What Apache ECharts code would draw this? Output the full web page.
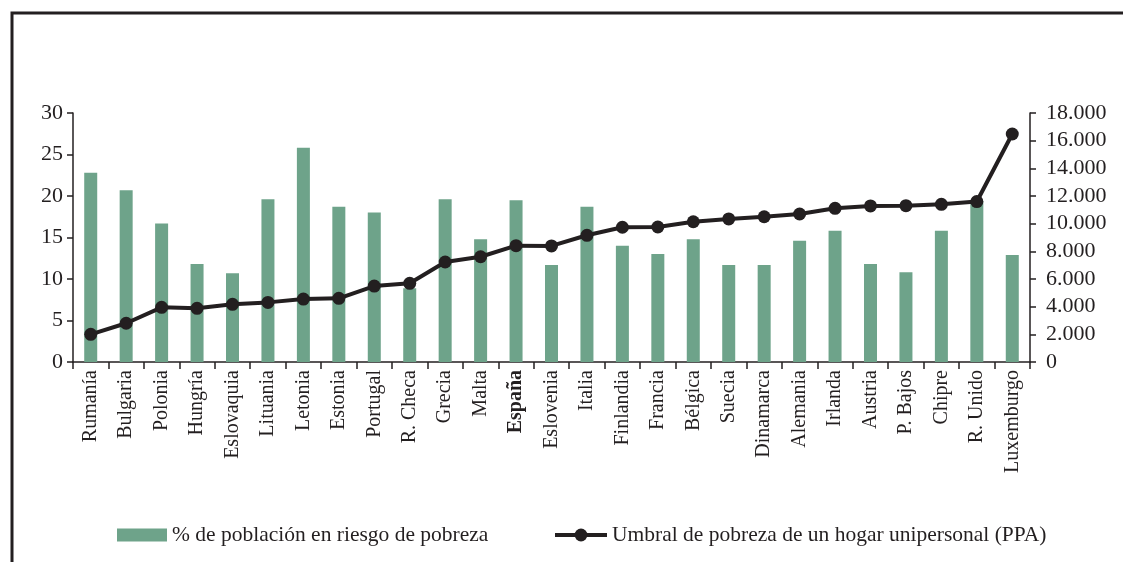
<!DOCTYPE html>
<html>
<head>
<meta charset="utf-8">
<script src="https://cdn.jsdelivr.net/npm/echarts@6/dist/echarts.min.js"></script>
<style>
  html, body { margin: 0; padding: 0; background: #fff; }
  #main { width: 1123px; height: 562px; }
</style>
</head>
<body>
<div id="main"></div>
<script>
// datos
const paises = ['Rumanía', 'Bulgaria', 'Polonia', 'Hungría', 'Eslovaquia', 'Lituania', 'Letonia',
  'Estonia', 'Portugal', 'R. Checa', 'Grecia', 'Malta', 'España', 'Eslovenia', 'Italia',
  'Finlandia', 'Francia', 'Bélgica', 'Suecia', 'Dinamarca', 'Alemania', 'Irlanda', 'Austria',
  'P. Bajos', 'Chipre', 'R. Unido', 'Luxemburgo'];

const riesgoPobreza = [22.8, 20.7, 16.7, 11.8, 10.7, 19.6, 25.8, 18.7, 18.0, 8.9, 19.6, 14.8,
  19.5, 11.7, 18.7, 14.0, 13.0, 14.8, 11.7, 11.7, 14.6, 15.8, 11.8, 10.8, 15.8, 19.4, 12.9];

const umbralPPA = [2000, 2800, 3950, 3880, 4170, 4310, 4550, 4600, 5490, 5690, 7230, 7610,
  8410, 8390, 9160, 9740, 9760, 10140, 10340, 10500, 10700, 11110, 11280, 11300, 11400, 11600, 16480];

const ticksIzq = [0, 5, 10, 15, 20, 25, 30];
const ticksDer = [0, 2000, 4000, 6000, 8000, 10000, 12000, 14000, 16000, 18000];

const nombreBarras = '% de población en riesgo de pobreza';
const nombreLinea = 'Umbral de pobreza de un hogar unipersonal (PPA)';

const negro = '#231f20';
const verde = '#6ea38a';
const fuente = '"Liberation Serif", "Times New Roman", serif';

const chart = echarts.init(document.getElementById('main'), null, { renderer: 'canvas' });

const option = {
  backgroundColor: '#fff',
  animation: false,
  textStyle: { fontFamily: fuente, color: negro },
  graphic: [{
    type: 'polyline',
    shape: { points: [[12, 562], [12, 13], [1123, 13]] },
    style: { stroke: negro, lineWidth: 3, fill: null }
  }],
  legend: [{
    data: [{ name: nombreBarras, icon: 'rect' }],
    left: 112,
    top: 519,
    itemWidth: 50,
    itemHeight: 13,
    textStyle: { fontFamily: fuente, fontSize: 21.5, color: negro }
  }, {
    data: [nombreLinea],
    left: 548,
    top: 519,
    itemWidth: 52,
    itemHeight: 16,
    lineStyle: { width: 4 },
    textStyle: { fontFamily: fuente, fontSize: 21.5, color: negro }
  }],
  grid: { left: 73, right: 93, top: 113, bottom: 200 },
  xAxis: {
    type: 'category',
    data: paises,
    axisLine: { lineStyle: { color: negro, width: 1.5 } },
    axisTick: { show: true, length: 7, lineStyle: { color: negro, width: 1.5 } },
    axisLabel: {
      rotate: 90,
      interval: 0,
      margin: 8,
      fontFamily: fuente,
      fontSize: 20,
      color: negro,
      formatter: function (v) { return v === 'España' ? '{b|' + v + '}' : v; },
      rich: { b: { fontFamily: fuente, fontSize: 20, fontWeight: 'bold', color: negro } }
    }
  },
  yAxis: [{
    type: 'value',
    min: 0, max: 30, interval: 5,
    axisLine: { show: true, lineStyle: { color: negro, width: 1.5 } },
    axisTick: { show: true, length: 6, lineStyle: { color: negro, width: 1.5 } },
    splitLine: { show: false },
    axisLabel: {
      margin: 10, fontFamily: fuente, fontSize: 22, color: negro,
      customValues: ticksIzq
    }
  }, {
    type: 'value',
    min: 0, max: 18000, interval: 2000,
    position: 'right',
    axisLine: { show: true, lineStyle: { color: negro, width: 1.5 } },
    axisTick: { show: true, length: 6, lineStyle: { color: negro, width: 1.5 } },
    splitLine: { show: false },
    axisLabel: {
      margin: 16, fontFamily: fuente, fontSize: 22, color: negro,
      customValues: ticksDer,
      formatter: function (v) { return v === 0 ? '0' : (v / 1000) + '.000'; }
    }
  }],
  series: [{
    name: nombreBarras,
    type: 'bar',
    data: riesgoPobreza,
    barWidth: 13,
    itemStyle: { color: verde },
    yAxisIndex: 0
  }, {
    name: nombreLinea,
    type: 'line',
    data: umbralPPA,
    yAxisIndex: 1,
    symbol: 'circle',
    symbolSize: 13,
    lineStyle: { color: negro, width: 4 },
    itemStyle: { color: negro }
  }]
};

chart.setOption(option);
</script>
</body>
</html>
